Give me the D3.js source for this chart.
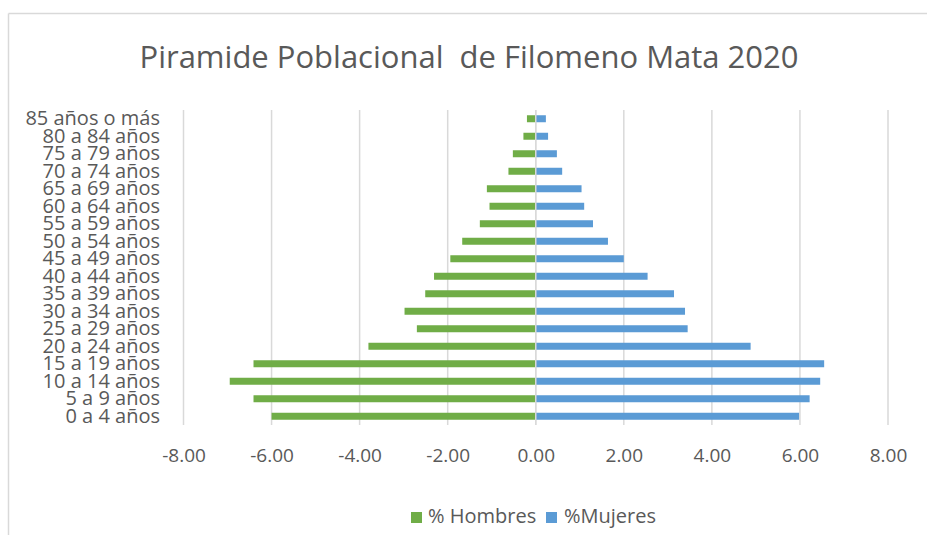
<!DOCTYPE html>
<html>
<head>
<meta charset="utf-8">
<script src="https://cdn.jsdelivr.net/npm/d3@7"></script>
<style>
  body { margin: 0; background: #fff; }
  text { font-family: "Open Sans", sans-serif; fill: #595959; }
</style>
</head>
<body>
<div id="chart"></div>
<script>
// grupos de edad, de abajo hacia arriba
const categories = ["0 a 4 años", "5 a 9 años", "10 a 14 años", "15 a 19 años", "20 a 24 años",
    "25 a 29 años", "30 a 34 años", "35 a 39 años", "40 a 44 años", "45 a 49 años",
    "50 a 54 años", "55 a 59 años", "60 a 64 años", "65 a 69 años", "70 a 74 años",
    "75 a 79 años", "80 a 84 años", "85 años o más"];

const hombres = [-6.00, -6.41, -6.95, -6.41, -3.80, -2.70, -2.98, -2.51, -2.31, -1.94,
    -1.67, -1.27, -1.05, -1.11, -0.62, -0.52, -0.28, -0.20];

const mujeres = [5.98, 6.22, 6.46, 6.55, 4.88, 3.45, 3.39, 3.14, 2.54, 2.00,
    1.64, 1.30, 1.10, 1.04, 0.60, 0.48, 0.28, 0.23];

const seriesNames = ["% Hombres", "%Mujeres"];
const seriesColors = ["#70AD47", "#5B9BD5"];

const xTicks = [-8, -6, -4, -2, 0, 2, 4, 6, 8];

const width = 927, height = 535;

const svg = d3.select("#chart")
    .append("svg")
    .attr("width", width)
    .attr("height", height);

// marco del grafico
svg.append("line")
    .attr("x1", 8.5).attr("x2", width)
    .attr("y1", 13.5).attr("y2", 13.5)
    .attr("stroke", "#D9D9D9").attr("stroke-width", 1.5);
svg.append("line")
    .attr("x1", 8.5).attr("x2", 8.5)
    .attr("y1", 13.5).attr("y2", height)
    .attr("stroke", "#D9D9D9").attr("stroke-width", 1.5);

svg.append("text")
    .attr("x", 469)
    .attr("y", 68)
    .attr("text-anchor", "middle")
    .style("font-size", "31px")
    .text("Piramide Poblacional\u00a0 de Filomeno Mata 2020");

const x = d3.scaleLinear()
    .domain([-8, 8])
    .range([183.5, 888]);

const y = d3.scaleBand()
    .domain(categories.slice().reverse())
    .range([110, 425])
    .paddingInner(0.6)
    .paddingOuter(0.3);

// lineas de cuadricula
svg.append("g")
    .selectAll("line")
    .data(xTicks)
    .join("line")
    .attr("x1", d => x(d)).attr("x2", d => x(d))
    .attr("y1", 110).attr("y2", 425)
    .attr("stroke", "#D9D9D9")
    .attr("stroke-width", 1.5);

const rows = categories.map((c, i) => ({ cat: c, h: hombres[i], m: mujeres[i] }));

svg.append("g")
    .selectAll("rect")
    .data(rows)
    .join("rect")
    .attr("x", d => x(d.h))
    .attr("width", d => x(0) - x(d.h))
    .attr("y", d => y(d.cat))
    .attr("height", y.bandwidth())
    .attr("fill", seriesColors[0]);

svg.append("g")
    .selectAll("rect")
    .data(rows)
    .join("rect")
    .attr("x", x(0))
    .attr("width", d => x(d.m) - x(0))
    .attr("y", d => y(d.cat))
    .attr("height", y.bandwidth())
    .attr("fill", seriesColors[1]);

// eje vertical (linea del cero)
svg.append("line")
    .attr("x1", x(0)).attr("x2", x(0))
    .attr("y1", 110).attr("y2", 425)
    .attr("stroke", "#D9D9D9")
    .attr("stroke-width", 1.5);

const yAxis = svg.append("g")
    .attr("transform", "translate(160,0)")
    .call(d3.axisLeft(y).tickSize(0).tickPadding(0));
yAxis.select(".domain").remove();
yAxis.selectAll("text")
    .style("font-size", "20px")
    .style("font-family", "'Open Sans', sans-serif")
    .attr("fill", "#595959");

const xAxis = svg.append("g")
    .attr("transform", "translate(0,425)")
    .call(d3.axisBottom(x).tickValues(xTicks).tickSize(0).tickPadding(23.5)
        .tickFormat(d => d.toFixed(2)));
xAxis.select(".domain").remove();
xAxis.selectAll("text")
    .style("font-size", "19px")
    .style("font-family", "'Open Sans', sans-serif")
    .attr("fill", "#595959");

// leyenda
const legendX = [411, 546];
const legend = svg.append("g")
    .selectAll("g")
    .data(seriesNames)
    .join("g")
    .attr("transform", (d, i) => `translate(${legendX[i]},512)`);

legend.append("rect")
    .attr("width", 11)
    .attr("height", 11)
    .attr("fill", (d, i) => seriesColors[i]);

legend.append("text")
    .attr("x", (d, i) => i === 0 ? 17 : 18)
    .attr("y", 11)
    .style("font-size", "20px")
    .text(d => d);
</script>
</body>
</html>
